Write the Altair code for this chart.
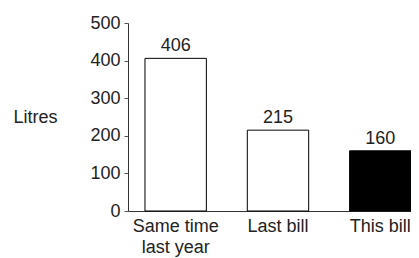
import altair as alt
import pandas as pd

categories = ["Same time|last year", "Last bill", "This bill"]
values = [406, 215, 160]
fills = ["white", "white", "black"]

df = pd.DataFrame({"cat": categories, "val": values, "fill": fills})

FONT = "Liberation Sans"
FS = 18

base = alt.Chart(df).encode(
    x=alt.X("cat:N", sort=categories,
            scale=alt.Scale(paddingInner=0.4, paddingOuter=0.083, align=1),
            axis=alt.Axis(title=None, labelAngle=0, ticks=False,
                          labelExpr="split(datum.label, '|')",
                          labelFontSize=FS, labelFont=FONT, labelColor="#222",
                          labelPadding=6, labelLineHeight=21,
                          domainColor="#333", labelBaseline="top")),
    y=alt.Y("val:Q", scale=alt.Scale(domain=[0, 500]),
            axis=alt.Axis(title="Litres", titleAngle=0, titleX=-93, titleY=94,
                          titleAlign="center", titleBaseline="middle",
                          titleFont=FONT, titleFontSize=FS, titleFontWeight="normal",
                          titleColor="#222",
                          values=[0, 100, 200, 300, 400, 500], grid=False,
                          tickSize=4, tickColor="#555", domainColor="#333",
                          labelFontSize=FS, labelFont=FONT, labelColor="#222",
                          labelPadding=4)),
)

bars = base.mark_bar(stroke="black", strokeWidth=1).encode(
    fill=alt.Fill("fill:N", scale=None)
)
text = base.mark_text(baseline="bottom", dy=-3, font=FONT, fontSize=FS, color="#222").encode(
    text="val:Q"
)

chart = (bars + text).properties(
    width=283, height=188,
    autosize=alt.AutoSizeParams(type="none"),
    padding={"left": 120, "top": 15, "right": 0, "bottom": 52},
).configure_view(stroke=None)

chart.save("out.html", embed_options={"renderer": "svg", "actions": False})
